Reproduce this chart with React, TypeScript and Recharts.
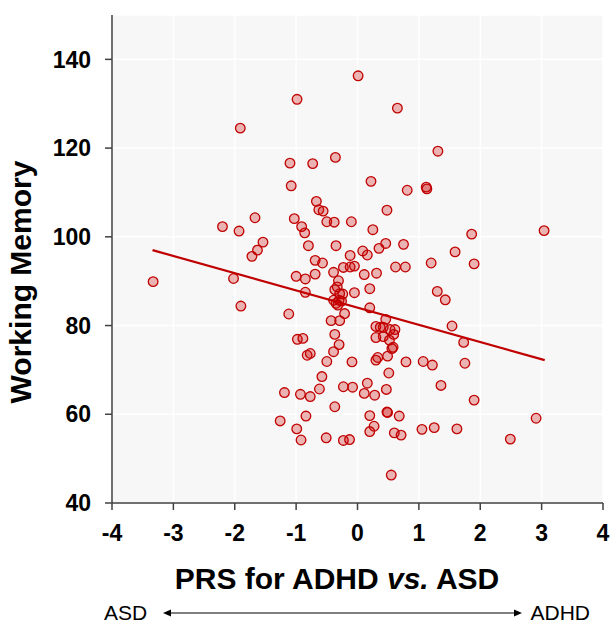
import { CartesianGrid, ReferenceLine, Scatter, ScatterChart, XAxis, YAxis } from "recharts";

// polygenic risk score (ADHD vs. ASD) per participant
const prsScores = [
  0.01, -0.985, -1.91, 0.65, 1.31, -1.1, -0.73, -0.36, -1.08, 0.22,
  0.81, 1.12, 1.13, -0.67, -0.63, -0.56, 0.48, -1.03, -0.5, -0.38,
  -0.1, -2.2, -1.93, -1.67, -0.91, -0.86, 0.25, 1.86, 3.04, -1.54,
  -1.63, -1.72, -0.8, -0.35, 0.46, 0.75, 0.35, 0.085, 0.16, -0.12,
  1.59, -0.69, -0.57, 1.2, 1.9, -0.23, -0.12, -0.05, 0.62, 0.78,
  -0.39, 0.11, 0.31, -0.69, -1.0, -0.85, -3.33, -2.02, -0.31, -0.33,
  -0.37, 0.2, -0.05, -0.85, -0.29, -0.24, 1.3, 1.43, -0.39, -0.3,
  -0.26, -0.35, -0.32, -1.9, 0.2, -0.21, -1.12, -0.43, -0.29, 0.46,
  1.54, 0.3, 0.37, 0.42, 0.53, 0.61, 0.59, 0.42, 0.3, 0.52,
  -0.98, -0.89, -0.37, -0.3, 1.73, 0.56, 0.58, -0.39, -0.82, -0.77,
  0.49, 0.33, 0.3, -0.5, -0.09, 0.79, 1.07, 1.22, 1.75, 0.51,
  -0.58, 1.36, -0.23, -0.08, 0.16, 0.11, 0.28, 0.47, -0.62, -1.19,
  -0.93, -0.77, 1.9, -0.37, -0.84, 0.2, 0.48, 0.49, 0.68, 2.91,
  -1.26, 0.27, 0.2, -0.99, 0.6, 0.71, 1.05, 1.25, 1.62, -0.92,
  -0.51, -0.23, -0.13, 2.49, 0.55,
];

// working memory score per participant
const memoryScores = [
  136.3, 131, 124.5, 129, 119.3, 116.6, 116.5, 117.9, 111.5, 112.5,
  110.5, 111.2, 110.8, 108, 106.1, 105.8, 106, 104.1, 103.4, 103.3,
  103.4, 102.3, 101.3, 104.3, 102.3, 100.9, 101.6, 100.6, 101.4, 98.8,
  97, 95.6, 98, 98, 98.5, 98.3, 97.4, 96.8, 95.9, 95.8,
  96.6, 94.7, 94.1, 94.1, 93.9, 93.1, 93.2, 93.4, 93.2, 93.2,
  92, 91.5, 91.8, 91.6, 91.1, 90.5, 89.9, 90.6, 90.1, 88.7,
  88.1, 88.3, 87.4, 87.5, 87.2, 87.1, 87.7, 85.8, 85.7, 85.7,
  85.5, 85, 84.6, 84.4, 84, 82.7, 82.6, 81.1, 81.1, 81.4,
  79.9, 79.8, 79.6, 79.6, 79.1, 79.1, 78, 77.5, 77.3, 76.7,
  76.9, 77.1, 78, 75.7, 76.2, 74.8, 75.1, 74.1, 73.3, 73.7,
  73.1, 72.8, 72.2, 71.9, 71.8, 71.8, 71.9, 71.1, 71.5, 69.3,
  68.5, 66.5, 66.2, 66.1, 67, 64.7, 64.3, 65.6, 65.7, 64.9,
  64.5, 64, 63.2, 61.7, 59.6, 59.7, 60.5, 60.4, 59.6, 59.1,
  58.5, 57.3, 56.1, 56.7, 55.8, 55.3, 56.6, 57, 56.7, 54.2,
  54.7, 54.1, 54.3, 54.4, 46.3,
];

// fitted regression line, read at its two ends
const fitX = [-3.34, 3.05];
const fitY = [97.0, 72.2];

const xTicks = [-4, -3, -2, -1, 0, 1, 2, 3, 4];
const yTicks = [40, 60, 80, 100, 120, 140];

const points = prsScores.map((x, i) => ({ x, y: memoryScores[i] }));

const FONT = "'Liberation Sans', Arial, sans-serif";
const RED = "#c00000";
const AXIS = "#404040";

function Dot(props: any) {
  return (
    <circle
      cx={props.cx}
      cy={props.cy}
      r={4.8}
      fill="rgba(204, 0, 0, 0.28)"
      stroke={RED}
      strokeWidth={1.3}
    />
  );
}

function XTitle() {
  return (
    <g fontFamily={FONT}>
      <text x={337} y={589} textAnchor="middle" fontSize={30} fontWeight="bold" fill="#000">
        PRS for ADHD <tspan fontStyle="italic">vs.</tspan> ASD
      </text>
      <text x={104} y={620} fontSize={21} fill="#000">ASD</text>
      <text x={590} y={620} fontSize={21} textAnchor="end" fill="#000">ADHD</text>
      <line x1={166} y1={613} x2={519} y2={613} stroke="#000" strokeWidth={1} />
      <polygon points="163,613 171,609.5 171,616.5" fill="#000" />
      <polygon points="522,613 514,609.5 514,616.5" fill="#000" />
    </g>
  );
}

function YTitle() {
  return (
    <text
      x={31}
      y={282}
      transform="rotate(-90 31 282)"
      textAnchor="middle"
      fontFamily={FONT}
      fontSize={30}
      fontWeight="bold"
      fill="#000"
    >
      Working Memory
    </text>
  );
}

export default function App() {
  const tickStyle = { fontFamily: FONT, fontSize: 23, fontWeight: "bold", fill: "#000" };
  return (
    <div style={{ position: "absolute", left: 0, top: 0, width: 611, height: 626, background: "#fff" }}>
      <ScatterChart width={611} height={626} margin={{ top: 15, right: 8, bottom: 0, left: 0 }}>
        <CartesianGrid fill="#f7f7f7" stroke="#ffffff" strokeWidth={1.5} />
        <XAxis
          type="number"
          dataKey="x"
          domain={[-4, 4]}
          ticks={xTicks}
          height={123}
          stroke={AXIS}
          strokeWidth={1.5}
          tickSize={7}
          tickMargin={15}
          tick={tickStyle}
          label={<XTitle />}
        />
        <YAxis
          type="number"
          dataKey="y"
          domain={[40, 150]}
          ticks={yTicks}
          width={112}
          stroke={AXIS}
          strokeWidth={1.5}
          tickSize={7}
          tickMargin={14}
          tick={tickStyle}
          label={<YTitle />}
        />
        <Scatter data={points} shape={<Dot />} isAnimationActive={false} />
        <ReferenceLine
          segment={[
            { x: fitX[0], y: fitY[0] },
            { x: fitX[1], y: fitY[1] },
          ]}
          stroke={RED}
          strokeWidth={2.2}
        />
      </ScatterChart>
    </div>
  );
}
